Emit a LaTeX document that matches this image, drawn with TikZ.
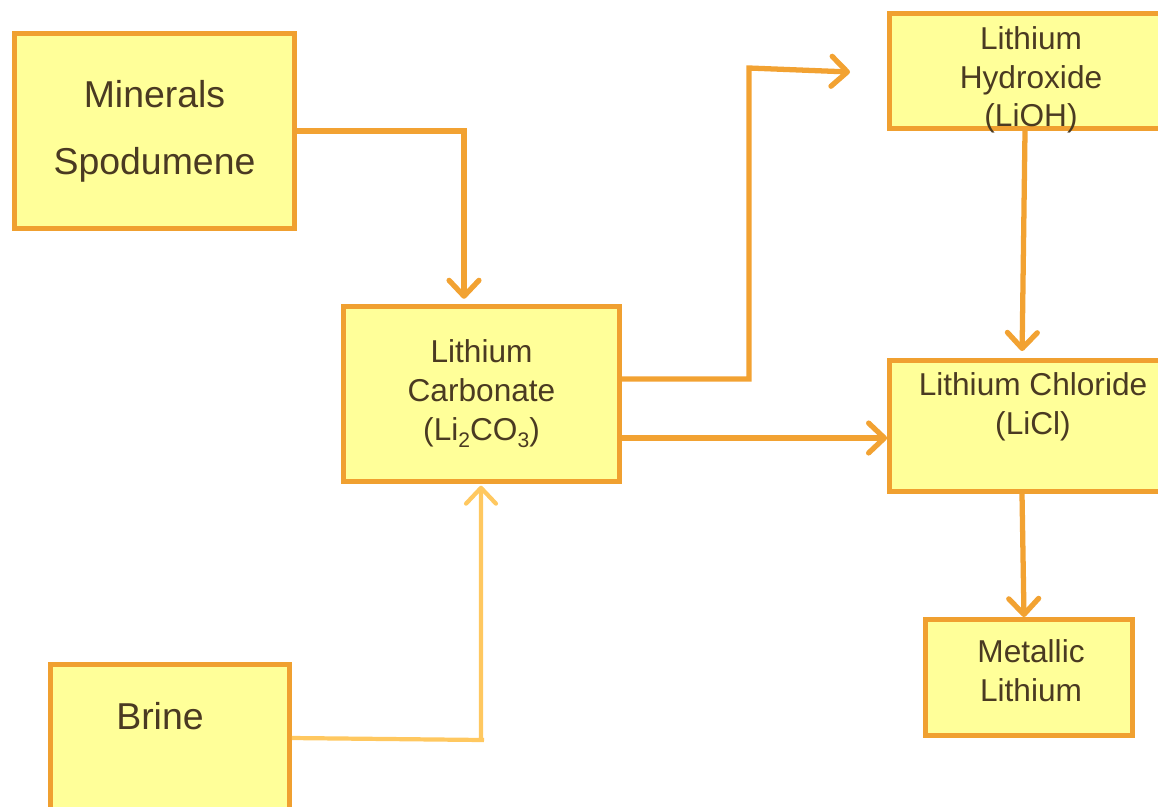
\documentclass[tikz,border=0pt]{standalone}
\usepackage{fontspec}
\setmainfont{Liberation Sans}
\usetikzlibrary{arrows.meta,positioning}
\definecolor{boxfill}{HTML}{FFFF99}
\definecolor{boxline}{HTML}{F0A030}
\definecolor{flowline}{HTML}{F2A232}
\definecolor{brineline}{HTML}{FFC860}
\definecolor{textbrown}{HTML}{4A3A22}
\newcommand{\lowsub}[1]{\raisebox{-0.45ex}{\fontsize{12}{12}\selectfont #1}}

\begin{document}
\begin{tikzpicture}[x=0.02cm,y=-0.02cm,
   every node/.style={text=textbrown},
   box/.style={draw=boxline,fill=boxfill,line width=2.8pt,inner sep=0pt},
   big/.style={font=\fontsize{21.3}{38}\selectfont,align=center},
   small/.style={font=\fontsize{18}{22}\selectfont,align=center},
   flow/.style={draw=flowline,line width=3pt,
      -{Straight Barb[length=9pt,width=17pt,round]}},
   brineflow/.style={flow,draw=brineline,line width=2.4pt}]
\useasboundingbox (0,0) rectangle (1158,806);

% boxes
\node[box,big,minimum width=5.6cm,minimum height=3.9cm] (min) at (154.5,131)
   {Minerals\\Spodumene};
\node[box,small,minimum width=5.52cm,minimum height=3.5cm] (carb) at (481.5,394)
   {Lithium\\Carbonate\\(Li\lowsub{2}CO\lowsub{3})};
\node[box,minimum width=4.78cm,minimum height=4.7cm] (brine) at (170,782) {};
\node[box,minimum width=5.56cm,minimum height=2.3cm] (hyd) at (1028.5,71) {};
\node[box,minimum width=5.56cm,minimum height=2.62cm] (chl) at (1028.5,426) {};
\node[box,minimum width=4.14cm,minimum height=2.32cm] (met) at (1029,677.5) {};

% texts off centre
\node[big] (brinetxt) at (160,716) {Brine};
\node[small] (hydtxt) at (1031,80) {Lithium\\Hydroxide\\(LiOH)};
\node[small] (chltxt) at (1033,407) {Lithium Chloride\\(LiCl)};
\node[small] (mettxt) at (1031,671) {Metallic\\Lithium};

% flows
\coordinate (hydin) at (850,72);
\draw[flow,shorten >=3pt] (min.east) -| ([xshift=-0.35cm]carb.north);
\draw[flow] (carb.east |- 0,379) -| (749,68) -- (hydin);
\draw[flow] (carb.east |- 0,438) -- (chl.west |- 0,438);
\draw[flow,shorten >=4pt] (hyd.south -| 1025,0) -- (chl.north -| 1022,0);
\draw[flow] (chl.south -| 1022,0) -- (met.north -| 1024,0);
\draw[brineflow,shorten >=1pt] (brine.east |- 0,738) -- (484,740)
   (481,740) -- (carb.south -| 481,0);
\end{tikzpicture}
\end{document}
